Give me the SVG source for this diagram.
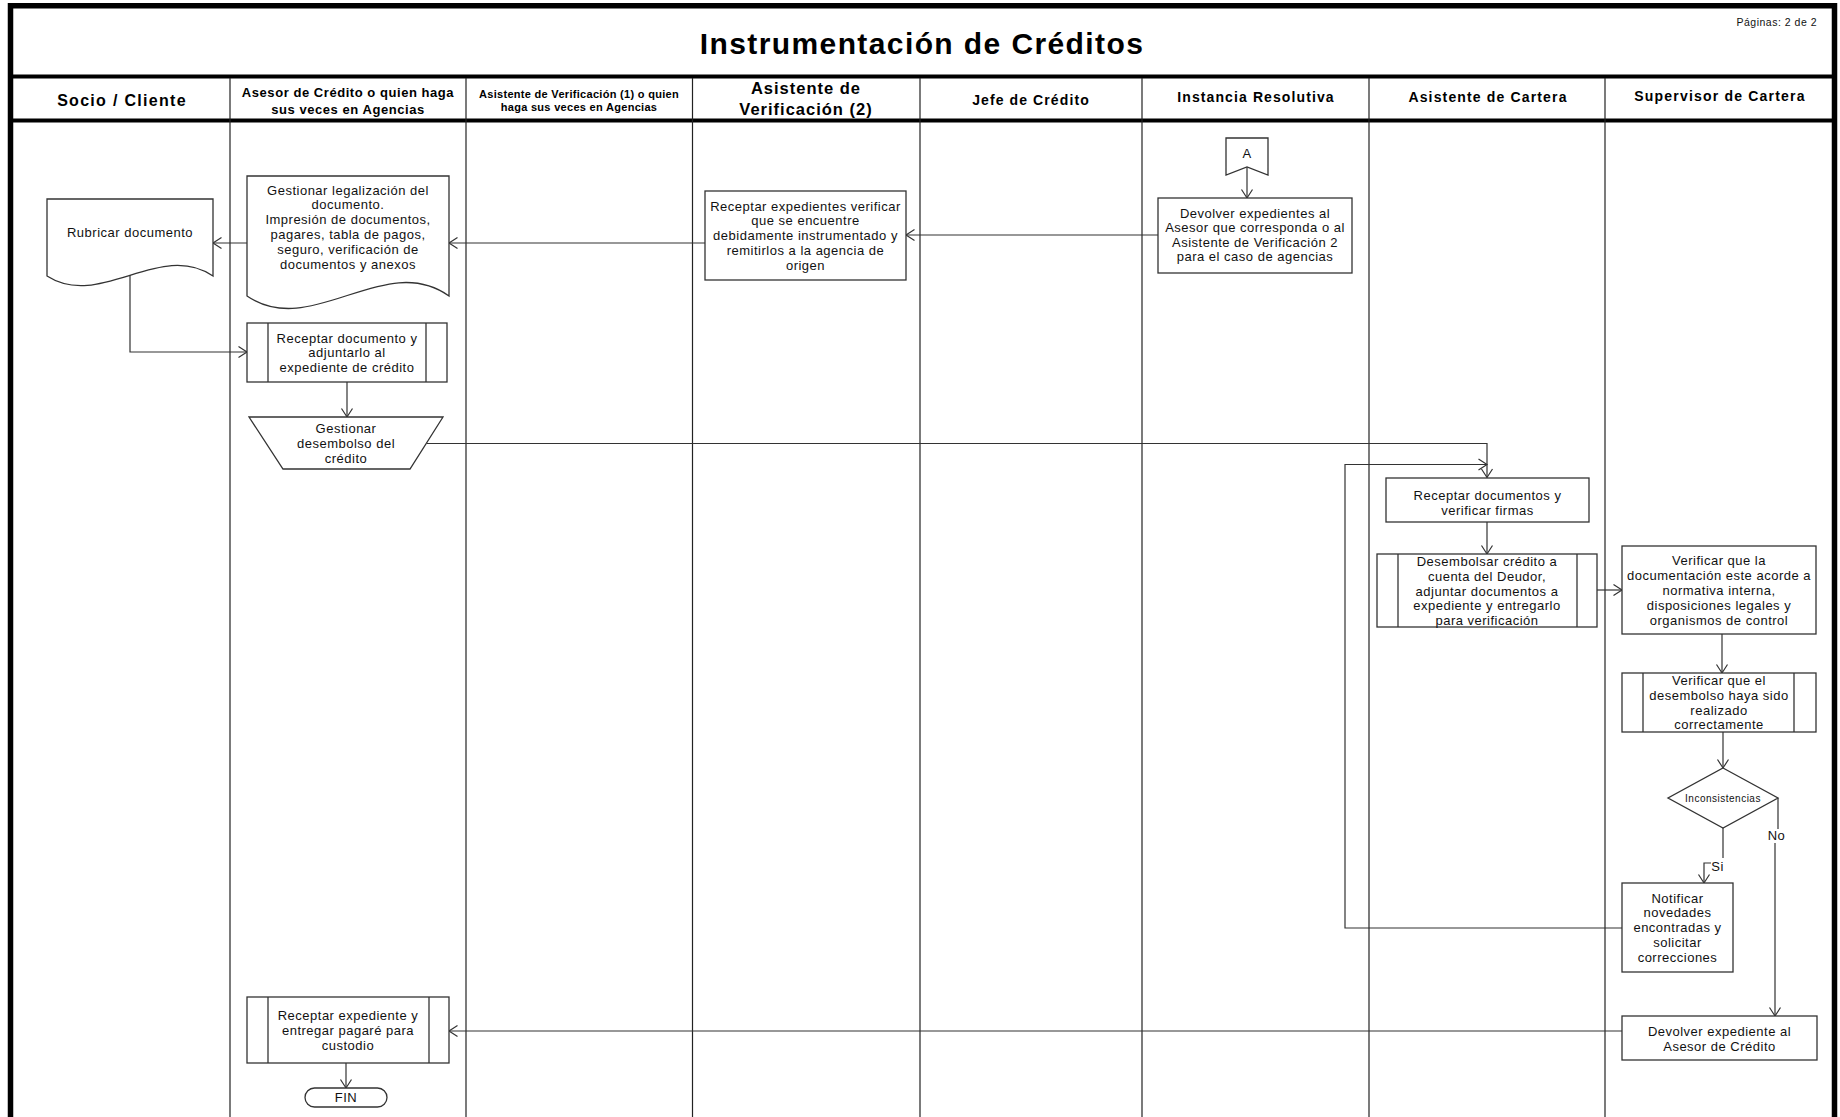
<svg xmlns="http://www.w3.org/2000/svg" width="1840" height="1117" viewBox="0 0 1840 1117">
<style>
.frame{fill:none;stroke:#000;stroke-width:5.5}
.band{stroke:#000;stroke-width:3.8}
.col{stroke:#222;stroke-width:1.2}
.box{fill:#fff;stroke:#333;stroke-width:1.3}
.bar{stroke:#333;stroke-width:1.3}
.con{fill:none;stroke:#333;stroke-width:1.2}
.t{font-family:"Liberation Sans",Arial,sans-serif;font-size:13px;letter-spacing:0.5px;fill:#111;text-anchor:middle}
.s{font-family:"Liberation Sans",Arial,sans-serif;font-size:10px;letter-spacing:0.5px;fill:#111;text-anchor:middle}
.h{font-family:"Liberation Sans",Arial,sans-serif;font-weight:bold;fill:#000;text-anchor:middle}
</style>
<defs>
<marker id="arr" markerUnits="userSpaceOnUse" markerWidth="12" markerHeight="14" viewBox="-10 -7 12 14" refX="0" refY="0" orient="auto">
<path d="M-8.5,-5.5 L0,0 L-8.5,5.5" fill="none" stroke="#333" stroke-width="1.2"/>
</marker>
</defs>
<rect width="1840" height="1117" fill="#fff"/>
<g id="frame">
<path class="frame" d="M10.5,1120 V5.8 H1834.5 V1120"/>
<line class="band" x1="10" y1="76.5" x2="1835" y2="76.5"/>
<line class="band" x1="10" y1="120.5" x2="1835" y2="120.5"/>
<line class="col" x1="230" y1="78" x2="230" y2="1117"/>
<line class="col" x1="466" y1="78" x2="466" y2="1117"/>
<line class="col" x1="692.5" y1="78" x2="692.5" y2="1117"/>
<line class="col" x1="920" y1="78" x2="920" y2="1117"/>
<line class="col" x1="1142" y1="78" x2="1142" y2="1117"/>
<line class="col" x1="1369" y1="78" x2="1369" y2="1117"/>
<line class="col" x1="1605" y1="78" x2="1605" y2="1117"/>
<text class="h" x="922" y="54" font-size="30" letter-spacing="1.4">Instrumentación de Créditos</text>
<text x="1817" y="25.5" font-family="Liberation Sans,Arial,sans-serif" font-size="10.5" letter-spacing="0.5" text-anchor="end" fill="#111">Páginas: 2 de 2</text>
</g>
<g id="headers">
<text class="h" x="122" y="106" font-size="16" letter-spacing="1.3">Socio / Cliente</text>
<text class="h" x="348" y="97" font-size="13" letter-spacing="0.55">Asesor de Crédito o quien haga</text>
<text class="h" x="348" y="113.5" font-size="13" letter-spacing="0.55">sus veces en Agencias</text>
<text class="h" x="579" y="97.8" font-size="11" letter-spacing="0.3">Asistente de Verificación (1) o quien</text>
<text class="h" x="579" y="110.7" font-size="11" letter-spacing="0.3">haga sus veces en Agencias</text>
<text class="h" x="806" y="94" font-size="16.5" letter-spacing="1">Asistente de</text>
<text class="h" x="806" y="115" font-size="16.5" letter-spacing="1">Verificación (2)</text>
<text class="h" x="1031" y="104.7" font-size="14" letter-spacing="1.1">Jefe de Crédito</text>
<text class="h" x="1256" y="102.4" font-size="14" letter-spacing="1.1">Instancia Resolutiva</text>
<text class="h" x="1488" y="102.4" font-size="14" letter-spacing="1.15">Asistente de Cartera</text>
<text class="h" x="1720" y="101" font-size="14" letter-spacing="1.2">Supervisor de Cartera</text>
</g>
<g id="connectors">
<path class="con" d="M705,243 H449" marker-end="url(#arr)"/>
<path class="con" d="M247,243 H213" marker-end="url(#arr)"/>
<path class="con" d="M1158,235 H906" marker-end="url(#arr)"/>
<path class="con" d="M1247,167 V198" marker-end="url(#arr)"/>
<path class="con" d="M130,270 V352 H247" marker-end="url(#arr)"/>
<path class="con" d="M347,382 V417" marker-end="url(#arr)"/>
<path class="con" d="M427,443.5 H1487 V477.5" marker-end="url(#arr)"/>
<path class="con" d="M1487,522 V554" marker-end="url(#arr)"/>
<path class="con" d="M1597,590 H1622" marker-end="url(#arr)"/>
<path class="con" d="M1722,634 V673" marker-end="url(#arr)"/>
<path class="con" d="M1723,732 V768" marker-end="url(#arr)"/>
<path class="con" d="M1723,828 V863 H1704 V883" marker-end="url(#arr)"/>
<path class="con" d="M1778,798 V836 H1775 V1016" marker-end="url(#arr)"/>
<path class="con" d="M1622,928 H1345 V464.5 H1487" marker-end="url(#arr)"/>
<path class="con" d="M1622,1031 H449" marker-end="url(#arr)"/>
<path class="con" d="M346,1063 V1088" marker-end="url(#arr)"/>
<rect x="1711" y="858" width="13" height="14" fill="#fff"/>
<text class="t" x="1717.5" y="871">Si</text>
<rect x="1767" y="829" width="19" height="14" fill="#fff"/>
<text class="t" x="1776.5" y="840">No</text>
</g>
<g id="n_rubricar">
<path class="box" d="M47,199 H213 V276 C160,240 100,310 47,276 Z"/>
<text class="t" x="130" y="237">Rubricar documento</text>
</g>
<g id="n_legalizacion">
<path class="box" d="M247,176 H449 V296 C384.5,250 311.5,340 247,296 Z"/>
<text class="t" x="348" y="194.5">Gestionar legalización del</text>
<text class="t" x="348" y="209.4">documento.</text>
<text class="t" x="348" y="224.3">Impresión de documentos,</text>
<text class="t" x="348" y="239.2">pagares, tabla de pagos,</text>
<text class="t" x="348" y="254.1">seguro, verificación de</text>
<text class="t" x="348" y="269">documentos y anexos</text>
</g>
<g id="n_receptar_doc">
<rect class="box" x="247" y="323" width="200" height="59"/>
<line class="bar" x1="268" y1="323" x2="268" y2="382"/>
<line class="bar" x1="426" y1="323" x2="426" y2="382"/>
<text class="t" x="347" y="342.5">Receptar documento y</text>
<text class="t" x="347" y="357">adjuntarlo al</text>
<text class="t" x="347" y="371.5">expediente de crédito</text>
</g>
<g id="n_desembolso">
<path class="box" d="M249,417 H443 L410,469 H283 Z"/>
<text class="t" x="346" y="432.5">Gestionar</text>
<text class="t" x="346" y="447.5">desembolso del</text>
<text class="t" x="346" y="463">crédito</text>
</g>
<g id="n_receptar_exp">
<rect class="box" x="705" y="191" width="201" height="89"/>
<text class="t" x="805.5" y="210.5">Receptar expedientes verificar</text>
<text class="t" x="805.5" y="225.3">que se encuentre</text>
<text class="t" x="805.5" y="240">debidamente instrumentado y</text>
<text class="t" x="805.5" y="254.8">remitirlos a la agencia de</text>
<text class="t" x="805.5" y="269.5">origen</text>
</g>
<g id="n_A">
<path class="box" d="M1226,138 H1268 V175 L1247,167 L1226,175 Z"/>
<text class="t" x="1247" y="157.5">A</text>
</g>
<g id="n_devolver_exps">
<rect class="box" x="1158" y="198" width="194" height="75"/>
<text class="t" x="1255" y="217.5">Devolver expedientes al</text>
<text class="t" x="1255" y="232">Asesor que corresponda o al</text>
<text class="t" x="1255" y="246.5">Asistente de Verificación 2</text>
<text class="t" x="1255" y="261">para el caso de agencias</text>
</g>
<g id="n_receptar_firmas">
<rect class="box" x="1386" y="478" width="203" height="44"/>
<text class="t" x="1487.5" y="499.5">Receptar documentos y</text>
<text class="t" x="1487.5" y="514.5">verificar firmas</text>
</g>
<g id="n_desembolsar">
<rect class="box" x="1377" y="554" width="220" height="73"/>
<line class="bar" x1="1398" y1="554" x2="1398" y2="627"/>
<line class="bar" x1="1577" y1="554" x2="1577" y2="627"/>
<text class="t" x="1487" y="566">Desembolsar crédito a</text>
<text class="t" x="1487" y="580.7">cuenta del Deudor,</text>
<text class="t" x="1487" y="595.5">adjuntar documentos  a</text>
<text class="t" x="1487" y="610.2">expediente y entregarlo</text>
<text class="t" x="1487" y="625">para verificación</text>
</g>
<g id="n_verificar_doc">
<rect class="box" x="1622" y="546" width="194" height="88"/>
<text class="t" x="1719" y="565">Verificar que la</text>
<text class="t" x="1719" y="580">documentación este acorde a</text>
<text class="t" x="1719" y="595">normativa interna,</text>
<text class="t" x="1719" y="610">disposiciones legales y</text>
<text class="t" x="1719" y="625">organismos de control</text>
</g>
<g id="n_verificar_desembolso">
<rect class="box" x="1622" y="673" width="194" height="59"/>
<line class="bar" x1="1643" y1="673" x2="1643" y2="732"/>
<line class="bar" x1="1794" y1="673" x2="1794" y2="732"/>
<text class="t" x="1719" y="685">Verificar que el</text>
<text class="t" x="1719" y="699.5">desembolso haya sido</text>
<text class="t" x="1719" y="714.5">realizado</text>
<text class="t" x="1719" y="729">correctamente</text>
</g>
<g id="n_inconsistencias">
<path class="box" d="M1723,768 L1778,798 L1723,828 L1668,798 Z"/>
<text class="s" x="1723" y="801.5">Inconsistencias</text>
</g>
<g id="n_notificar">
<rect class="box" x="1622" y="883" width="111" height="89"/>
<text class="t" x="1677.5" y="902.5">Notificar</text>
<text class="t" x="1677.5" y="917">novedades</text>
<text class="t" x="1677.5" y="931.5">encontradas y</text>
<text class="t" x="1677.5" y="946.5">solicitar</text>
<text class="t" x="1677.5" y="961.5">correcciones</text>
</g>
<g id="n_devolver_exp">
<rect class="box" x="1622" y="1016" width="195" height="44"/>
<text class="t" x="1719.5" y="1035.5">Devolver expediente al</text>
<text class="t" x="1719.5" y="1050.5">Asesor de Crédito</text>
</g>
<g id="n_receptar_custodio">
<rect class="box" x="247" y="997" width="202" height="66"/>
<line class="bar" x1="268" y1="997" x2="268" y2="1063"/>
<line class="bar" x1="429" y1="997" x2="429" y2="1063"/>
<text class="t" x="348" y="1019.5">Receptar expediente  y</text>
<text class="t" x="348" y="1035">entregar pagaré para</text>
<text class="t" x="348" y="1050">custodio</text>
</g>
<g id="n_fin">
<rect class="box" x="305" y="1088" width="82" height="19" rx="9.5"/>
<text class="t" x="346" y="1102">FIN</text>
</g>
</svg>
